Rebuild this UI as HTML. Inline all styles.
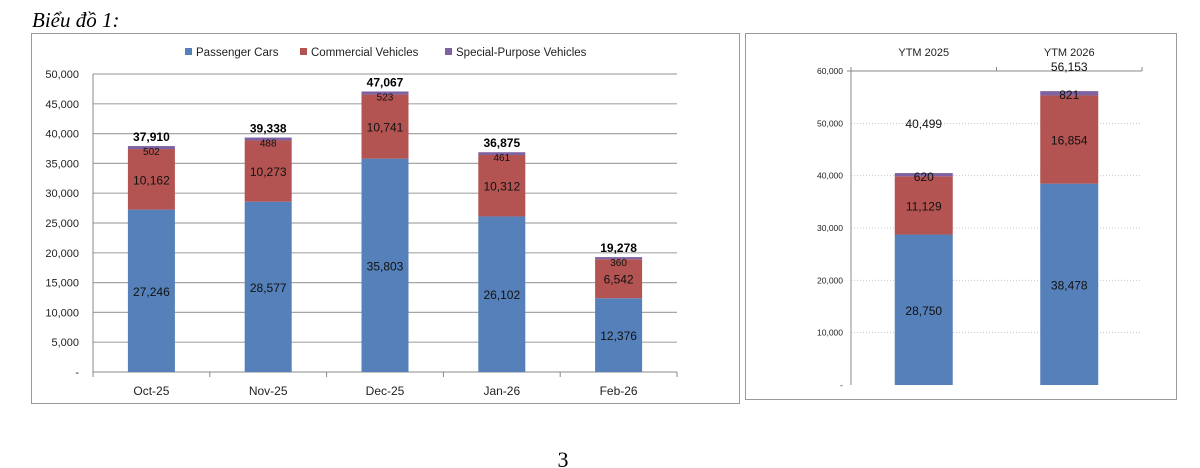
<!DOCTYPE html>
<html><head><meta charset="utf-8"><style>
body{margin:0;background:#fff;width:1200px;height:468px;overflow:hidden;font-family:"Liberation Sans",sans-serif}
svg{position:absolute;left:0;top:0}
</style></head><body>
<svg width="1200" height="468">
<text x="32" y="27" font-family="Liberation Serif" font-style="italic" font-size="21" fill="#000">Biểu đồ 1:</text>
<rect x="31.5" y="33.5" width="708" height="370" fill="#fff" stroke="#999"/>
<rect x="745.5" y="33.5" width="431" height="366" fill="#fff" stroke="#999"/>
<g id="left"></g>
<g id="right"></g>
<text x="563" y="467" font-family="Liberation Serif" font-size="22" text-anchor="middle">3</text>
</svg>
<script>
const months=["Oct-25","Nov-25","Dec-25","Jan-26","Feb-26"];
const passenger=[27246,28577,35803,26102,12376];
const commercial=[10162,10273,10741,10312,6542];
const special=[502,488,523,461,360];
const totals=[37910,39338,47067,36875,19278];
const leftTicks=[0,5000,10000,15000,20000,25000,30000,35000,40000,45000,50000];
const ytmCats=["YTM 2025","YTM 2026"];
const ytmPassenger=[28750,38478];
const ytmCommercial=[11129,16854];
const ytmSpecial=[620,821];
const ytmTotals=[40499,56153];
const rightTicks=[0,10000,20000,30000,40000,50000,60000];
const COL=["#5580b9","#b35452","#7e62a1"];
const NS="http://www.w3.org/2000/svg";
function mk(p,t,a,txt){const e=document.createElementNS(NS,t);for(const k in a)e.setAttribute(k,a[k]);if(txt!==undefined)e.textContent=txt;p.appendChild(e);return e;}
const fmt=v=>v===0?"-":v.toLocaleString("en-US");
const L=document.getElementById("left");
const lx0=93,lx1=677,ly0=372,ly1=74,lmax=50000;
const ly=v=>ly0-(v/lmax)*(ly0-ly1);
const lstep=(lx1-lx0)/months.length;
const lcx=i=>lx0+lstep*(i+0.5);
leftTicks.forEach(t=>{
 if(t>0){const g=mk(L,"line",{x1:lx0,x2:lx1,y1:ly(t),y2:ly(t),stroke:"#a6a6a6","stroke-width":1.2});
 
 }
 const tx=mk(L,"text",{x:lx0-14,y:ly(t)+4,"font-size":11,"text-anchor":"end",fill:"#222"},fmt(t));
 
 
});
mk(L,"line",{x1:lx0,x2:lx0,y1:ly1,y2:ly0+4,stroke:"#888"});
mk(L,"line",{x1:lx0,x2:lx1,y1:ly0,y2:ly0,stroke:"#888"});
for(let i=0;i<=months.length;i++)mk(L,"line",{x1:lx0+lstep*i,x2:lx0+lstep*i,y1:ly0,y2:ly0+5,stroke:"#888"});
const bw=47;
months.forEach((m,i)=>{
 const cx=lcx(i);const segs=[passenger[i],commercial[i],special[i]];let base=0;
 segs.forEach((v,s)=>{
  const r=mk(L,"rect",{x:cx-bw/2,y:ly(base+v),width:bw,height:ly(base)-ly(base+v),fill:COL[s]});
  
  
  const mid=ly(base+v/2);
  const lab=mk(L,"text",{x:cx,y:s==2?ly(base+v)+9:mid+5,"font-size":s==2?10:12,"text-anchor":"middle",fill:"#111"},fmt(v));
  
  
  base+=v;
 });
 const t=mk(L,"text",{x:cx,y:ly(totals[i])-5,"font-size":12,"font-weight":"bold","text-anchor":"middle"},fmt(totals[i]));
 
 
 const xl=mk(L,"text",{x:cx,y:395,"font-size":12,"text-anchor":"middle",fill:"#222"},m);
 
 
});
const legNames=["Passenger Cars","Commercial Vehicles","Special-Purpose Vehicles"];
const legX=[185,300,445];
legNames.forEach((n,i)=>{
 const r=mk(L,"rect",{x:legX[i],y:48,width:7,height:7,fill:COL[i]});
 
 
 const t=mk(L,"text",{x:legX[i]+11,y:56,"font-size":11.5,fill:"#222"},n);
 
 
});
const R=document.getElementById("right");
const rx0=851,rx1=1142,ry0=385,ry1=71,rmax=60000;
const ry=v=>ry0-(v/rmax)*(ry0-ry1);
const rstep=(rx1-rx0)/ytmCats.length;
const rcx=i=>rx0+rstep*(i+0.5);
rightTicks.forEach(t=>{
 if(t>0&&t<rmax){const g=mk(R,"line",{x1:rx0,x2:rx1,y1:ry(t),y2:ry(t),stroke:"#c8c8c8","stroke-dasharray":"1,2"});
 
 }
 const tx=mk(R,"text",{x:rx0-8,y:ry(t)+3,"font-size":8.5,"text-anchor":"end",fill:"#222"},fmt(t));
 
 
});
mk(R,"line",{x1:rx0,x2:rx0,y1:ry1,y2:ry0,stroke:"#888"});
mk(R,"line",{x1:rx0-4,x2:rx1,y1:ry1,y2:ry1,stroke:"#888"});
for(let i=0;i<=ytmCats.length;i++)mk(R,"line",{x1:rx0+rstep*i,x2:rx0+rstep*i,y1:ry1,y2:ry1-4,stroke:"#888"});
const rbw=58;
ytmCats.forEach((c,i)=>{
 const cx=rcx(i);const segs=[ytmPassenger[i],ytmCommercial[i],ytmSpecial[i]];let base=0;
 segs.forEach((v,s)=>{
  const r=mk(R,"rect",{x:cx-rbw/2,y:ry(base+v),width:rbw,height:ry(base)-ry(base+v),fill:COL[s]});
  
  
  const lab=mk(R,"text",{x:cx,y:s==2?ry(base+v)+8:ry(base+v/2)+5,"font-size":12,"text-anchor":"middle",fill:"#111"},fmt(v));
  
  
  base+=v;
 });
 const ty=i==0?ry(ytmTotals[i])-45:ry(ytmTotals[i])-20;
 const t=mk(R,"text",{x:cx,y:ty,"font-size":12,"text-anchor":"middle",fill:"#111"},fmt(ytmTotals[i]));
 
 
 const xl=mk(R,"text",{x:cx,y:56,"font-size":11,"text-anchor":"middle",fill:"#222"},c);
 
 
});
</script>
</body></html>
